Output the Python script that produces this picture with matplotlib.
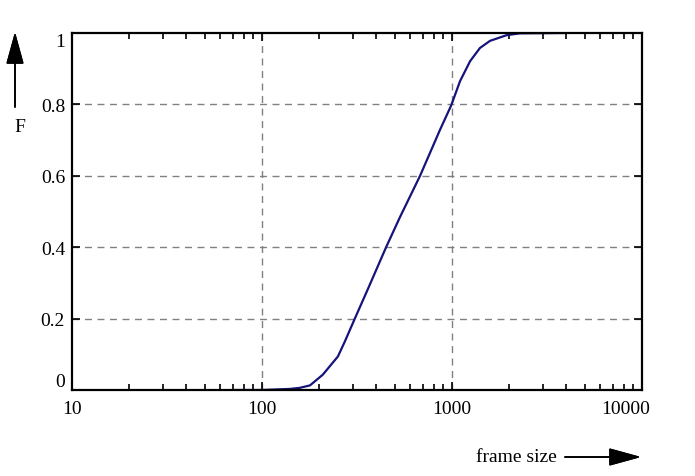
import numpy as np
import matplotlib.pyplot as plt
from matplotlib.ticker import FixedLocator, NullFormatter
from matplotlib.transforms import ScaledTranslation

# CDF of frame sizes
frame_size = [70, 100, 140, 158, 179, 209, 251, 273, 308, 361, 450, 532, 679, 865, 990,
              1102, 1245, 1403, 1585, 1941, 2281, 3940]
cdf = [0.0, 0.0, 0.003, 0.006, 0.013, 0.043, 0.094, 0.136, 0.2, 0.283, 0.4, 0.484, 0.6, 0.729, 0.797,
       0.865, 0.921, 0.958, 0.978, 0.994, 0.999, 1.0]

x_ticks = [10, 100, 1000, 10000]
x_labels = ['10', '100', '1000', '10000']
y_ticks = [0, 0.2, 0.4, 0.6, 0.8, 1]
y_labels = ['0', '0.2', '0.4', '0.6', '0.8', '1']

plt.rcParams['font.family'] = ['Liberation Serif', 'DejaVu Serif']
plt.rcParams['font.size'] = 14

W, H = 695, 477
fig = plt.figure(figsize=(W / 100, H / 100), dpi=100)
ax = fig.add_axes([72 / W, 1 - 391 / H, (642 - 72) / W, (391 - 34) / H])

ax.plot(frame_size, cdf, color='#14147a', lw=1.6)

ax.set_xscale('log')
ax.set_xlim(10, 10000)
ax.set_ylim(0, 1)
ax.set_xticks(x_ticks)
ax.set_xticklabels(x_labels)
ax.xaxis.set_minor_locator(FixedLocator([m * 10 ** e for e in range(1, 4) for m in range(2, 10)]))
ax.xaxis.set_minor_formatter(NullFormatter())
ax.set_yticks(y_ticks)
ax.set_yticklabels(y_labels)

ax.tick_params(which='both', direction='in', top=True, right=True, width=1.2, colors='black')
ax.tick_params(which='major', length=6)
ax.tick_params(which='minor', length=4)
ax.tick_params(axis='x', pad=7)
ax.tick_params(axis='y', pad=5)
for s in ax.spines.values():
    s.set_linewidth(1.6)

ylabs = ax.get_yticklabels()
ylabs[0].set_verticalalignment('bottom')
ylabs[-1].set_verticalalignment('top')
xlabs = ax.get_xticklabels()
xlabs[-1].set_transform(xlabs[-1].get_transform() + ScaledTranslation(-16 / 100, 0, fig.dpi_scale_trans))

# grid lines only inside the frame
for v in x_ticks[1:-1]:
    ax.axvline(v, color='#808080', lw=1, ls=(0, (5, 4)), zorder=0)
for v in y_ticks[1:-1]:
    ax.axhline(v, color='#808080', lw=1, ls=(0, (5, 4)), zorder=0)

# axis labels with arrows
arrow = dict(arrowstyle='-|>,head_length=2.0,head_width=0.55', color='black', lw=1.2,
             mutation_scale=10, shrinkA=0, shrinkB=0)
fig.add_artist(plt.annotate('', xy=(15, H - 33), xytext=(15, H - 108),
                            xycoords='figure pixels', textcoords='figure pixels', arrowprops=arrow))
fig.text(20 / W, 1 - 128 / H, 'F', ha='center', va='center')
fig.add_artist(plt.annotate('', xy=(641, H - 458), xytext=(565, H - 458),
                            xycoords='figure pixels', textcoords='figure pixels', arrowprops=arrow))
fig.text(557 / W, 1 - 458 / H, 'frame size', ha='right', va='center')

fig.savefig('out.png', dpi=100)
